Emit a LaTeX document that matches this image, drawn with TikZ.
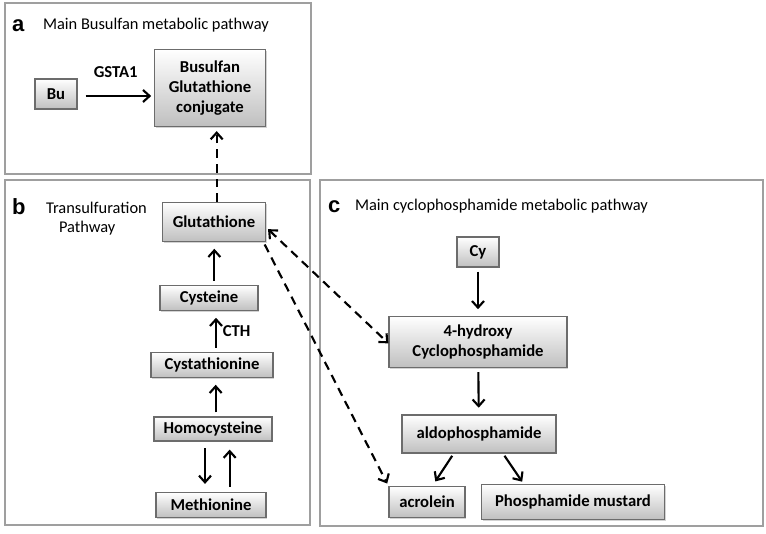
\documentclass[tikz,border=0pt]{standalone}
\usepackage{fontspec}
\setmainfont{Carlito}
\newfontfamily\letterfont{Liberation Sans}
\usetikzlibrary{positioning, arrows.meta, shadows}

\begin{document}
\begin{tikzpicture}[x=0.75pt, y=-0.75pt, line width=1.6pt, >={Straight Barb[length=5pt,width=9pt]},
  main/.style = {draw=gray!85!black, line width=0.9pt, top color=white, bottom color=gray!50, inner sep=0pt,
    drop shadow={shadow xshift=1pt, shadow yshift=-1pt, opacity=0.35}, font=\fontsize{12.5}{15}\selectfont\bfseries, align=center},
  panel/.style = {draw=gray!75, line width=1pt},
  letter/.style = {anchor=base west, font=\letterfont\fontsize{16.5}{18}\selectfont\bfseries, inner sep=0pt},
  title/.style = {anchor=base west, font=\fontsize{12.3}{14}\selectfont, inner sep=0pt},
  gap/.style = {shorten <=3pt, shorten >=5pt},
  dashline/.style = {dash pattern=on 6.5pt off 4.5pt}]
\useasboundingbox (0,0) rectangle (766,534);

% panels
\draw[panel] (5,3) rectangle (311,174);
\draw[panel] (5,180) rectangle (310,525);
\draw[panel] (320,180) rectangle (763,526);

\node[letter] (la) at (11,32) {a};
\node[title] (ta) at (42,30) {Main Busulfan metabolic pathway};
\node[letter] (lb) at (11,215) {b};
\node[title] (tb) at (45,214) {Transulfuration};
\node[title] (tb2) at (58,233) {Pathway};
\node[letter] (lc) at (327,213) {c};
\node[title] (tc) at (354,211) {Main cyclophosphamide metabolic pathway};

% a
\node[main, minimum width=31.5pt, minimum height=22.5pt] (bu) at (56,94) {Bu};
\node[main, minimum width=83.25pt, minimum height=57.75pt] (conj) at (210,88) {Busulfan\\Glutathione\\conjugate};

% b
\node[main, minimum width=77.25pt, minimum height=29.25pt] (glu) at (214,222) {Glutathione};
\node[main, minimum width=73.5pt, minimum height=18.75pt] (cys) at (209,298) {Cysteine};
\node[main, minimum width=91.5pt, minimum height=18.75pt] (cysta) at (212,365) {Cystathionine};
\node[main, minimum width=88.5pt, minimum height=18pt] (homo) at (213,429) {Homocysteine};
\node[main, minimum width=82.5pt, minimum height=18.75pt] (met) at (211,505) {Methionine};

% c
\node[main, minimum width=31.5pt, minimum height=22.5pt] (cy) at (478,252) {Cy};
\node[main, minimum width=133.5pt, minimum height=38.25pt] (hydroxy) at (478,342) {4-hydroxy\\Cyclophosphamide};
\node[main, minimum width=115.5pt, minimum height=28.5pt] (aldo) at (479,434) {aldophosphamide};
\node[main, minimum width=57pt, minimum height=23.25pt] (acro) at (427,502) {acrolein};
\node[main, minimum width=137.25pt, minimum height=26.25pt] (mustard) at (573,502) {Phosphamide mustard};

\draw[->, shorten <=6pt, shorten >=2pt] ([yshift=-1.5pt]bu.east) -- node[above=10pt, font=\fontsize{12.5}{15}\selectfont\bfseries]{GSTA1} ([yshift=-1.5pt]bu.east -| conj.west);
\draw[->, dashline, shorten >=3pt] ([xshift=2pt]glu.north) -- ([xshift=2pt]glu.north |- conj.south);

\draw[->, gap] ([xshift=4pt]cys.north |- cys.north) -- ([xshift=4pt]cys.north |- glu.south);
\draw[->, gap] ([xshift=3pt]cysta.north) -- node[right=1pt, font=\fontsize{12.5}{15}\selectfont\bfseries]{CTH} ([xshift=3pt]cysta.north |- cys.south);
\draw[->, gap] ([xshift=2pt]homo.north) -- ([xshift=2pt]homo.north |- cysta.south);
\draw[->, shorten <=5pt, shorten >=6pt] ([xshift=-6pt]homo.south) -- ([xshift=-6pt]homo.south |- met.north);
\draw[->, shorten <=4pt, shorten >=6pt] ([xshift=14pt]met.north) -- ([xshift=14pt]met.north |- homo.south);

\draw[->, gap] (cy) -- (hydroxy);
\draw[->, gap] (hydroxy) -- (aldo);
\draw[->, shorten <=2pt, shorten >=4pt] ([xshift=-19pt]aldo.south) -- ([xshift=4pt]acro.north);
\draw[->, shorten <=2pt, shorten >=2pt] ([xshift=18pt]aldo.south) -- ([xshift=-37pt]mustard.north);

\draw[<->, dashline, shorten <=2pt] ([yshift=-4pt]glu.east) -- ([yshift=-1pt]hydroxy.west);
\draw[->, dashline, shorten <=2pt, shorten >=2pt] ([xshift=-2pt]glu.south east) -- (acro.north west);
\end{tikzpicture}
\end{document}
